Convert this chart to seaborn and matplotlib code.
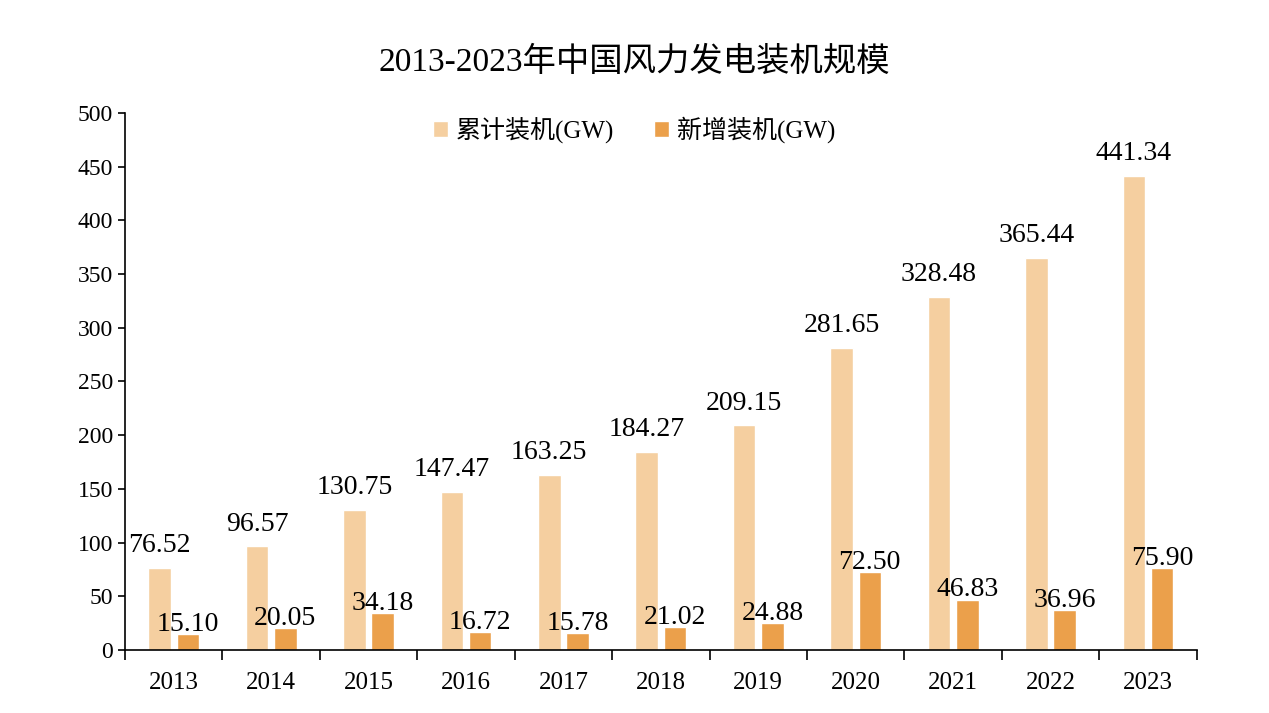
import numpy as np
import pandas as pd
import matplotlib.pyplot as plt
import seaborn as sns

years = ["2013", "2014", "2015", "2016", "2017", "2018", "2019", "2020", "2021", "2022", "2023"]
cumulative = [76.52, 96.57, 130.75, 147.47, 163.25, 184.27, 209.15, 281.65, 328.48, 365.44, 441.34]
added = [15.10, 20.05, 34.18, 16.72, 15.78, 21.02, 24.88, 72.50, 46.83, 36.96, 75.90]
series = ["累计装机(GW)", "新增装机(GW)"]

df = pd.DataFrame({
    "year": years * 2,
    "value": cumulative + added,
    "type": [series[0]] * len(years) + [series[1]] * len(years),
})

sns.set_style("ticks")
plt.rcParams["font.family"] = ["Liberation Serif", "Noto Sans CJK SC"]
plt.rcParams["text.color"] = "black"
plt.rcParams["xtick.color"] = "black"
plt.rcParams["ytick.color"] = "black"
plt.rcParams["axes.edgecolor"] = "black"

fig = plt.figure(figsize=(12.69, 7.13), dpi=100)
ax = fig.add_axes([0.0985, 0.0884, 0.8445, 0.7531])

sns.barplot(data=df, x="year", y="value", hue="type", ax=ax,
            palette=["#F5CFA0", "#EBA04B"], width=0.58, gap=0.2,
            saturation=1, errorbar=None)

ax.bar_label(ax.containers[0], fmt="%.2f", padding=7, fontsize=20)
ax.bar_label(ax.containers[1], fmt="%.2f", padding=-2, fontsize=20)

ax.set_ylim(0, 500)
ax.set_yticks(np.arange(0, 501, 50))
ax.set_xlim(-0.5, len(years) - 0.5)
ax.set_xticks(np.arange(-0.5, len(years), 1), minor=True)
ax.tick_params(axis="x", which="major", length=0, labelsize=18, pad=16)
ax.tick_params(axis="x", which="minor", length=7, width=1.2, direction="out")
ax.tick_params(axis="y", length=5, width=1.2, labelsize=17, direction="out")
for s in ["top", "right"]:
    ax.spines[s].set_visible(False)
for s in ["left", "bottom"]:
    ax.spines[s].set_linewidth(1.2)
ax.set_xlabel("")
ax.set_ylabel("")

ax.legend(loc="upper center", bbox_to_anchor=(0.475, 1.035), ncol=2, frameon=False,
          fontsize=18, handlelength=0.6, handleheight=0.6, handletextpad=0.3,
          columnspacing=1.6)

fig.suptitle("2013-2023年中国风力发电装机规模", fontsize=24, y=0.935)

fig.savefig("out.png", dpi=100)
